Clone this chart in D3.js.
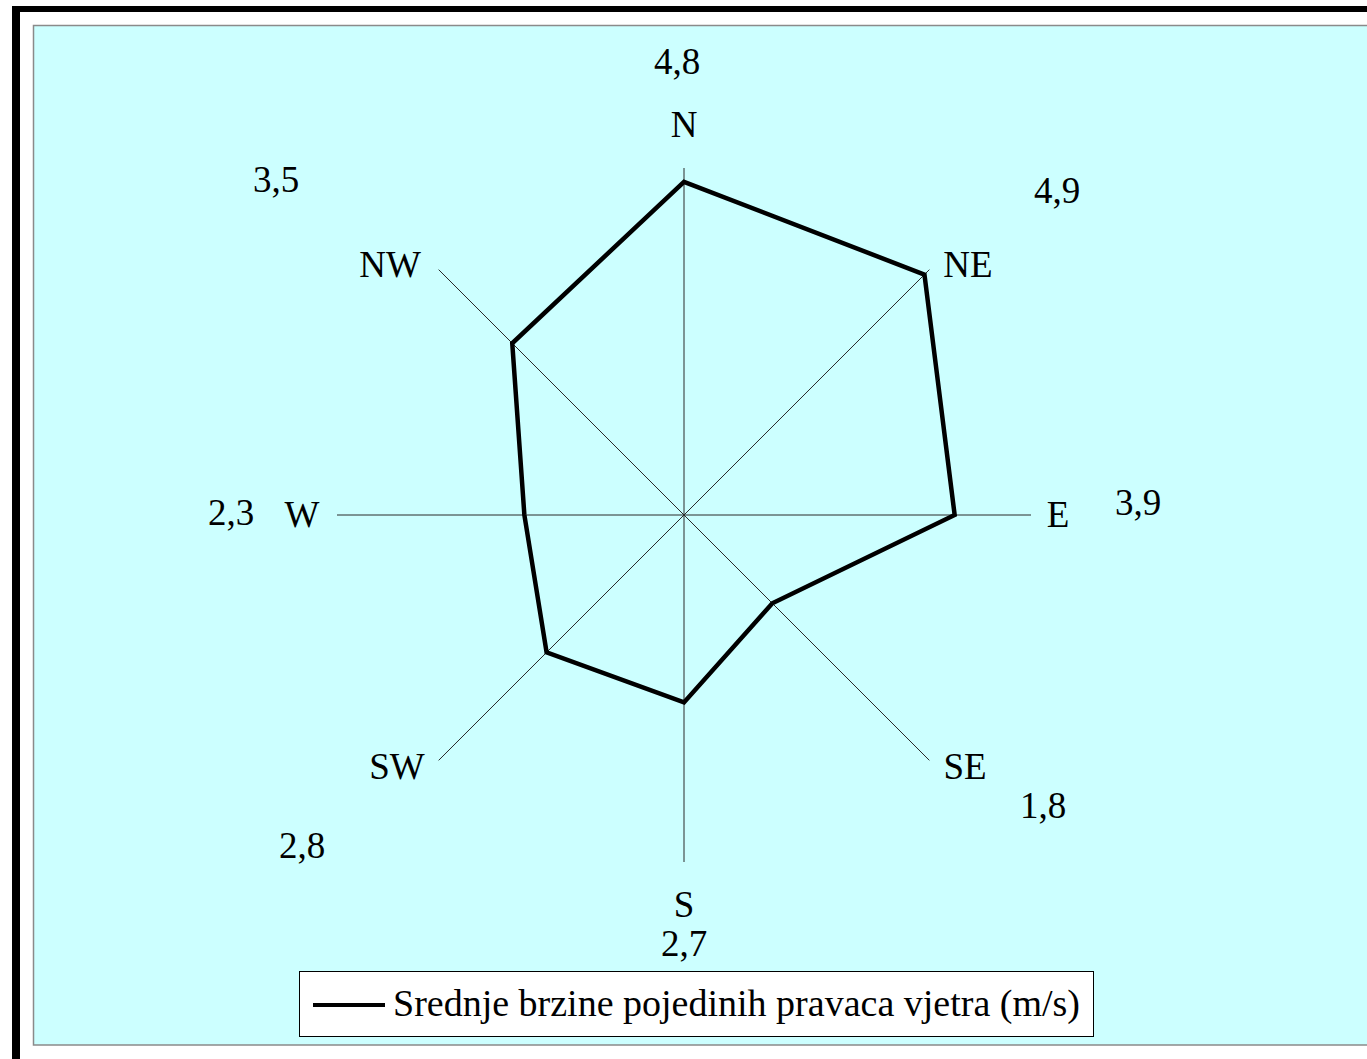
<!DOCTYPE html>
<html>
<head>
<meta charset="utf-8">
<script src="https://cdn.jsdelivr.net/npm/d3@7"></script>
<style>
  html, body { margin: 0; padding: 0; background: #ffffff; }
  svg { display: block; }
  text { font-family: "Liberation Serif", "Times New Roman", "DejaVu Serif", serif; fill: #000; }
</style>
</head>
<body>
<svg id="chart" width="1367" height="1059"></svg>
<script>
// Mean wind speed per direction (m/s)
const directions = ["N", "NE", "E", "SE", "S", "SW", "W", "NW"];
const speeds = [4.8, 4.9, 3.9, 1.8, 2.7, 2.8, 2.3, 3.5];
const valueLabels = ["4,8", "4,9", "3,9", "1,8", "2,7", "2,8", "2,3", "3,5"];
const legendLabel = "Srednje brzine pojedinih pravaca vjetra (m/s)";
const axisMax = 5;

const svg = d3.select("#chart");
const W = 1367, H = 1059;

// Outer frame and plot area
svg.append("rect").attr("x", 0).attr("y", 0).attr("width", W).attr("height", H).attr("fill", "#fff");
svg.append("rect").attr("x", 12).attr("y", 6).attr("width", W).attr("height", 6).attr("fill", "#000");
svg.append("rect").attr("x", 12).attr("y", 6).attr("width", 8).attr("height", H).attr("fill", "#000");
svg.append("rect")
  .attr("x", 33.5).attr("y", 25.5).attr("width", W).attr("height", 1045 - 25.5)
  .attr("fill", "#CCFFFF").attr("stroke", "#8a8a8a").attr("stroke-width", 1.5);

const cx = 684, cy = 515;
const r = d3.scaleLinear().domain([0, axisMax]).range([0, 347]);
const angle = d3.scalePoint().domain(directions).range([0, 2 * Math.PI * 7 / 8]);

const pt = (dir, v) => {
  const a = angle(dir);
  return [cx + r(v) * Math.sin(a), cy - r(v) * Math.cos(a)];
};

const g = svg.append("g");

// Spokes
g.selectAll("line.spoke").data(directions).join("line")
  .attr("class", "spoke")
  .attr("x1", cx).attr("y1", cy)
  .attr("x2", d => pt(d, axisMax)[0])
  .attr("y2", d => pt(d, axisMax)[1])
  .attr("stroke", "#2a2a2a").attr("stroke-width", 1);

// Speed polygon
const lineGen = d3.lineRadial()
  .angle((d, i) => angle(directions[i]))
  .radius(d => r(d))
  .curve(d3.curveLinearClosed);
g.append("path")
  .attr("transform", `translate(${cx},${cy})`)
  .attr("d", lineGen(speeds))
  .attr("fill", "none").attr("stroke", "#000").attr("stroke-width", 4.5)
  .attr("stroke-linejoin", "miter");

// Label placement per direction: [dx, dy] for direction name and for value, relative to centre
const nameOffsets = {
  N: [0, -378], NE: [284, -238], E: [374, 12], SE: [281, 264],
  S: [0, 402], SW: [-287, 264], W: [-382, 12], NW: [-294, -238]
};
const valueOffsets = {
  N: [-7, -441], NE: [373, -312], E: [454, 0], SE: [359, 303],
  S: [0, 441], SW: [-382, 343], W: [-453, 10], NW: [-408, -323]
};

const fontSize = 37;
g.selectAll("text.dir").data(directions).join("text")
  .attr("class", "dir")
  .attr("x", d => cx + nameOffsets[d][0])
  .attr("y", d => cy + nameOffsets[d][1])
  .attr("text-anchor", "middle")
  .attr("font-size", fontSize)
  .text(d => d);

g.selectAll("text.val").data(directions).join("text")
  .attr("class", "val")
  .attr("x", d => cx + valueOffsets[d][0])
  .attr("y", d => cy + valueOffsets[d][1])
  .attr("text-anchor", "middle")
  .attr("font-size", fontSize)
  .text((d, i) => valueLabels[i]);

// Legend
const lg = svg.append("g");
lg.append("rect")
  .attr("x", 299.5).attr("y", 971.5).attr("width", 794).attr("height", 65)
  .attr("fill", "#fff").attr("stroke", "#000").attr("stroke-width", 1);
lg.append("line")
  .attr("x1", 313).attr("x2", 385).attr("y1", 1005).attr("y2", 1005)
  .attr("stroke", "#000").attr("stroke-width", 4);
lg.append("text")
  .attr("x", 393).attr("y", 1016)
  .attr("font-size", 38)
  .attr("textLength", 687).attr("lengthAdjust", "spacingAndGlyphs")
  .text(legendLabel);
</script>
</body>
</html>
